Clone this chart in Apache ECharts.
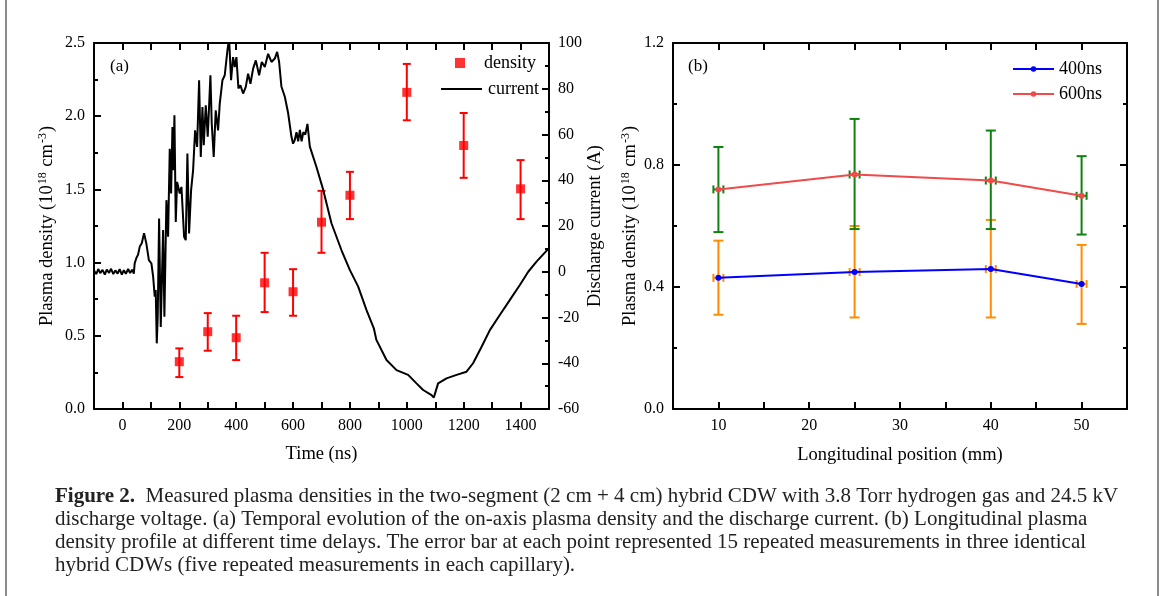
<!DOCTYPE html>
<html>
<head>
<meta charset="utf-8">
<script src="https://cdn.jsdelivr.net/npm/echarts@6/dist/echarts.min.js"></script>
<style>
html, body { margin: 0; padding: 0; background: #fff; }
#main { width: 1165px; height: 596px; }
</style>
</head>
<body>
<div id="main"></div>
<script>
var serif = "'Liberation Serif', 'DejaVu Serif', serif";

// (a) density measurements vs time
var densityT = [200, 300, 400, 500, 600, 700, 800, 1000, 1200, 1400];
var densityVal = [0.323, 0.528, 0.487, 0.862, 0.801, 1.276, 1.46, 2.163, 1.80, 1.504];
var densityLow = [0.218, 0.398, 0.334, 0.662, 0.637, 1.067, 1.297, 1.972, 1.579, 1.297];
var densityHigh = [0.414, 0.655, 0.637, 1.067, 0.955, 1.49, 1.62, 2.357, 2.022, 1.70];

// (a) discharge current trace (ns, A)
var currentT = [-100, -92, -85, -78, -70, -62, -55, -47, -40, -32, -25, -17, -10, -2, 5, 12, 20, 27, 34, 40,
    43, 49, 55, 61, 68, 76, 84, 93, 102, 108, 113.6, 117, 120.7, 124, 128.9, 134.7, 143, 147.6, 154.6, 160.5,
    166.4, 171.1, 175.8, 179.3, 182.8, 187.5, 192.2, 201.6, 207.5, 216.8, 222.7, 228.5, 234.4, 241.4, 248.5,
    255.5, 262.6, 269.6, 275.5, 281.3, 286, 293, 300, 309.4, 314, 321, 328, 336.3, 342.2, 351.6, 359.8, 369.2,
    375, 382, 389, 395, 400.8, 407.9, 414.9, 424.3, 433.7, 441.9, 450.1, 459.5, 469, 480.7, 490, 500.6, 512.3,
    524, 535.8, 544, 551, 559, 571, 582.6, 594.4, 600, 606, 612, 618, 624, 630, 636, 643, 650.6, 659, 682,
    705.6, 735, 770, 799.5, 829, 858, 884, 893, 928.6, 963.8, 1004.6, 1034, 1057.5, 1087, 1095, 1110, 1139.6,
    1175, 1210, 1233, 1263, 1292, 1327, 1362, 1397.5, 1427, 1456, 1500];
var currentA = [0.5, -1.0, 1.2, -0.6, 0.8, -1.2, 0.9, -0.5, 1.3, -1.0, 0.6, -0.8, 1.1, -1.2, 0.7, -0.9, 1.2, -0.6, 0.9, -0.8,
    3.6, 6.0, 7.5, 11, 12.5, 16.8, 12.4, 5.1, 3.6, -2.2, -10.9, -8, -31.3, -20, 23.3, -24.1, 18.2, -19.7, 31.3, 15.3,
    53.8, 34.2, 63.3, 44.4, 68.4, 21.8, 39.3, 34.2, 37.1, 15.3, 13.8, 51.7, 16.7, 35.6, 44.4,
    61.8, 54.6, 83.7, 50.2, 72.0, 55.3, 72.8, 59.0, 85.9, 64.8, 50.2, 70.6, 61.8, 73.5, 83.7, 85.9, 96.8,
    102, 83.7, 93.8, 89.5, 93.8, 80.1, 81.5, 77.9, 80.8, 86.6, 82.2, 88.8, 92.4, 85.9, 91.7, 89.5, 95.3,
    91.7, 93.2, 96.1, 91.7, 81, 76.5, 69.4, 59, 56, 57.6, 61, 57, 62, 57, 61, 60, 64.6, 54.7, 45.9,
    36, 21.2, 9.5, 0.8, -6.5, -16.7, -24.7, -29.8, -38.6, -43, -45.1, -48.8, -51.7, -53.9, -55, -48.8, -46.6,
    -45.1, -43.7, -40, -32.8, -25.5, -18.9, -12.4, -5.8, 0, 4.4, 10.3];

// (b) longitudinal profile
var position = [10, 25, 40, 50];
var posErr = 0.55;
var d400 = [0.430, 0.449, 0.459, 0.410];
var d400Low = [0.309, 0.300, 0.300, 0.279];
var d400High = [0.552, 0.600, 0.620, 0.538];
var d600 = [0.720, 0.769, 0.749, 0.699];
var d600Low = [0.580, 0.590, 0.590, 0.572];
var d600High = [0.859, 0.951, 0.913, 0.829];

var captionLines = [
    '{b|Figure 2.}  Measured plasma densities in the two-segment (2 cm + 4 cm) hybrid CDW with 3.8 Torr hydrogen gas and 24.5 kV',
    'discharge voltage. (a) Temporal evolution of the on-axis plasma density and the discharge current. (b) Longitudinal plasma',
    'density profile at different time delays. The error bar at each point represented 15 repeated measurements in three identical',
    'hybrid CDWs (five repeated measurements in each capillary).'
];

function zip(a, b) {
    var out = [];
    for (var i = 0; i < a.length; i++) out.push([a[i], b[i]]);
    return out;
}

function errData(x, y, lo, hi, xe) {
    var out = [];
    for (var i = 0; i < x.length; i++) out.push([x[i], lo[i], hi[i], y[i], x[i] - xe, x[i] + xe]);
    return out;
}

function errRender(color, cap, withX) {
    return function (params, api) {
        var x = api.value(0);
        var pLo = api.coord([x, api.value(1)]);
        var pHi = api.coord([x, api.value(2)]);
        var st = {stroke: color, lineWidth: 2};
        var kids = [
            {type: 'line', shape: {x1: pLo[0], y1: pLo[1], x2: pHi[0], y2: pHi[1]}, style: st},
            {type: 'line', shape: {x1: pLo[0] - cap, y1: pLo[1], x2: pLo[0] + cap, y2: pLo[1]}, style: st},
            {type: 'line', shape: {x1: pHi[0] - cap, y1: pHi[1], x2: pHi[0] + cap, y2: pHi[1]}, style: st}
        ];
        if (withX) {
            var y = api.value(3);
            var pL = api.coord([api.value(4), y]);
            var pR = api.coord([api.value(5), y]);
            kids.push({type: 'line', shape: {x1: pL[0], y1: pL[1], x2: pR[0], y2: pR[1]}, style: st});
            kids.push({type: 'line', shape: {x1: pL[0], y1: pL[1] - 4, x2: pL[0], y2: pL[1] + 4}, style: st});
            kids.push({type: 'line', shape: {x1: pR[0], y1: pR[1] - 4, x2: pR[0], y2: pR[1] + 4}, style: st});
        }
        return {type: 'group', children: kids};
    };
}

var axLine = {onZero: false, lineStyle: {color: '#000', width: 2}};
var tick = {inside: true, length: 7, lineStyle: {color: '#000', width: 2}};
var minor = {show: true, splitNumber: 2, length: 4, lineStyle: {color: '#000', width: 2}};
var lbl = {color: '#000', fontFamily: serif, fontSize: 16, margin: 9};
var nameStyle = {
    color: '#000', fontFamily: serif, fontSize: 18.5,
    rich: {
        a: {color: '#000', fontFamily: serif, fontSize: 18.5},
        s: {color: '#000', fontFamily: serif, fontSize: 12, verticalAlign: 'top', padding: [0, 1, 9, 1]}
    }
};
var densName = '{a|Plasma density (10}{s|18}{a| cm}{s|-3}{a|)}';

var dom = document.getElementById('main');
var myChart = echarts.init(dom, null, {renderer: 'canvas'});
var option = {
    animation: false,
    backgroundColor: '#fff',
    grid: [
        {left: 94, top: 43, width: 455, height: 366},
        {left: 673, top: 43, width: 454, height: 366}
    ],
    xAxis: [
        {
            gridIndex: 0, type: 'value', position: 'bottom', min: -100, max: 1500, interval: 100,
            axisLine: axLine, axisTick: tick, splitLine: {show: false},
            axisLabel: Object.assign({}, lbl, {formatter: function (v) { return (v >= 0 && v % 200 === 0) ? String(v) : ''; }}),
            name: 'Time (ns)', nameLocation: 'middle', nameGap: 36, nameTextStyle: nameStyle
        },
        {
            gridIndex: 0, type: 'value', position: 'top', min: -100, max: 1500, interval: 100,
            axisLine: axLine, axisTick: tick, axisLabel: {show: false}, splitLine: {show: false}
        },
        {
            gridIndex: 1, type: 'value', position: 'bottom', min: 5, max: 55, interval: 5,
            axisLine: axLine, axisTick: tick, splitLine: {show: false},
            axisLabel: Object.assign({}, lbl, {formatter: function (v) { return (v % 10 === 0) ? String(v) : ''; }}),
            name: 'Longitudinal position (mm)', nameLocation: 'middle', nameGap: 37, nameTextStyle: nameStyle
        },
        {
            gridIndex: 1, type: 'value', position: 'top', min: 5, max: 55, interval: 5,
            axisLine: axLine, axisTick: tick, axisLabel: {show: false}, splitLine: {show: false}
        }
    ],
    yAxis: [
        {
            gridIndex: 0, type: 'value', position: 'left', min: 0, max: 2.5, interval: 0.5,
            axisLine: axLine, axisTick: tick, minorTick: minor, splitLine: {show: false},
            axisLabel: Object.assign({}, lbl, {formatter: function (v) { return v.toFixed(1); }}),
            name: densName, nameLocation: 'middle', nameRotate: 90, nameGap: 36, nameTextStyle: nameStyle
        },
        {
            gridIndex: 0, type: 'value', position: 'right', min: -60, max: 100, interval: 20,
            axisLine: axLine, axisTick: tick, minorTick: minor, splitLine: {show: false},
            axisLabel: lbl,
            name: 'Discharge current (A)', nameLocation: 'middle', nameRotate: 90, nameGap: 37, nameTextStyle: nameStyle
        },
        {
            gridIndex: 1, type: 'value', position: 'left', min: 0, max: 1.2, interval: 0.4,
            axisLine: axLine, axisTick: tick, minorTick: minor, splitLine: {show: false},
            axisLabel: Object.assign({}, lbl, {formatter: function (v) { return v.toFixed(1); }}),
            name: densName, nameLocation: 'middle', nameRotate: 90, nameGap: 32, nameTextStyle: nameStyle
        },
        {
            gridIndex: 1, type: 'value', position: 'right', min: 0, max: 1.2, interval: 0.4,
            axisLine: axLine, axisTick: tick, minorTick: minor, axisLabel: {show: false}, splitLine: {show: false}
        }
    ],
    legend: [
        {
            data: ['density'], left: 450, top: 49, itemWidth: 10, itemHeight: 10,
            textStyle: {color: '#000', fontFamily: serif, fontSize: 18, padding: [0, 0, 0, 14]}
        },
        {
            data: [{name: 'current', icon: 'rect'}], left: 436, top: 75, itemWidth: 41, itemHeight: 2,
            textStyle: {color: '#000', fontFamily: serif, fontSize: 18, padding: [0, 0, 0, 1]}
        },
        {
            data: ['400ns', '600ns'], left: 1007, top: 55, orient: 'vertical', itemWidth: 41, itemHeight: 7, itemGap: 7,
            textStyle: {color: '#000', fontFamily: serif, fontSize: 18}
        }
    ],
    graphic: [
        {type: 'line', shape: {x1: 6, y1: 0, x2: 6, y2: 596}, style: {stroke: '#8a8a8a', lineWidth: 2}},
        {type: 'line', shape: {x1: 1158, y1: 0, x2: 1158, y2: 596}, style: {stroke: '#8a8a8a', lineWidth: 2}},
        {type: 'text', left: 110, top: 58, style: {text: '(a)', font: '17px ' + serif, fill: '#000'}},
        {type: 'text', left: 688, top: 58, style: {text: '(b)', font: '17px ' + serif, fill: '#000'}},
        {
            type: 'text', left: 55, top: 485,
            style: {
                text: captionLines.join('\n'), font: '21px ' + serif, fill: '#222', lineHeight: 23,
                rich: {b: {font: 'bold 21px ' + serif, fill: '#222'}}
            }
        }
    ],
    series: [
        {
            name: 'density-err', type: 'custom', xAxisIndex: 0, yAxisIndex: 0,
            renderItem: errRender('#ff0000', 4, false),
            encode: {x: 0, y: [1, 2]},
            data: errData(densityT, densityVal, densityLow, densityHigh, 0)
        },
        {
            name: 'current', type: 'line', xAxisIndex: 0, yAxisIndex: 1,
            symbol: 'none', lineStyle: {color: '#000', width: 2}, itemStyle: {color: '#000'},
            data: zip(currentT, currentA)
        },
        {
            name: 'density', type: 'scatter', xAxisIndex: 0, yAxisIndex: 0,
            symbol: 'rect', symbolSize: 9, itemStyle: {color: '#ff0000'},
            data: zip(densityT, densityVal), z: 3
        },
        {
            name: '400-err', type: 'custom', xAxisIndex: 2, yAxisIndex: 2,
            renderItem: errRender('#ff8c00', 5, true),
            encode: {x: 0, y: [1, 2]},
            data: errData(position, d400, d400Low, d400High, posErr)
        },
        {
            name: '600-err', type: 'custom', xAxisIndex: 2, yAxisIndex: 2,
            renderItem: errRender('#118011', 5, true),
            encode: {x: 0, y: [1, 2]},
            data: errData(position, d600, d600Low, d600High, posErr)
        },
        {
            name: '400ns', type: 'line', xAxisIndex: 2, yAxisIndex: 2,
            symbol: 'circle', symbolSize: 6, lineStyle: {color: '#0000ff', width: 2}, itemStyle: {color: '#0000ff'},
            data: zip(position, d400), z: 3
        },
        {
            name: '600ns', type: 'line', xAxisIndex: 2, yAxisIndex: 2,
            symbol: 'circle', symbolSize: 6, lineStyle: {color: '#f04a4a', width: 2}, itemStyle: {color: '#f04a4a'},
            data: zip(position, d600), z: 3
        }
    ]
};
if (option && typeof option === "object") {
    myChart.setOption(option, true);
}
</script>
</body>
</html>
